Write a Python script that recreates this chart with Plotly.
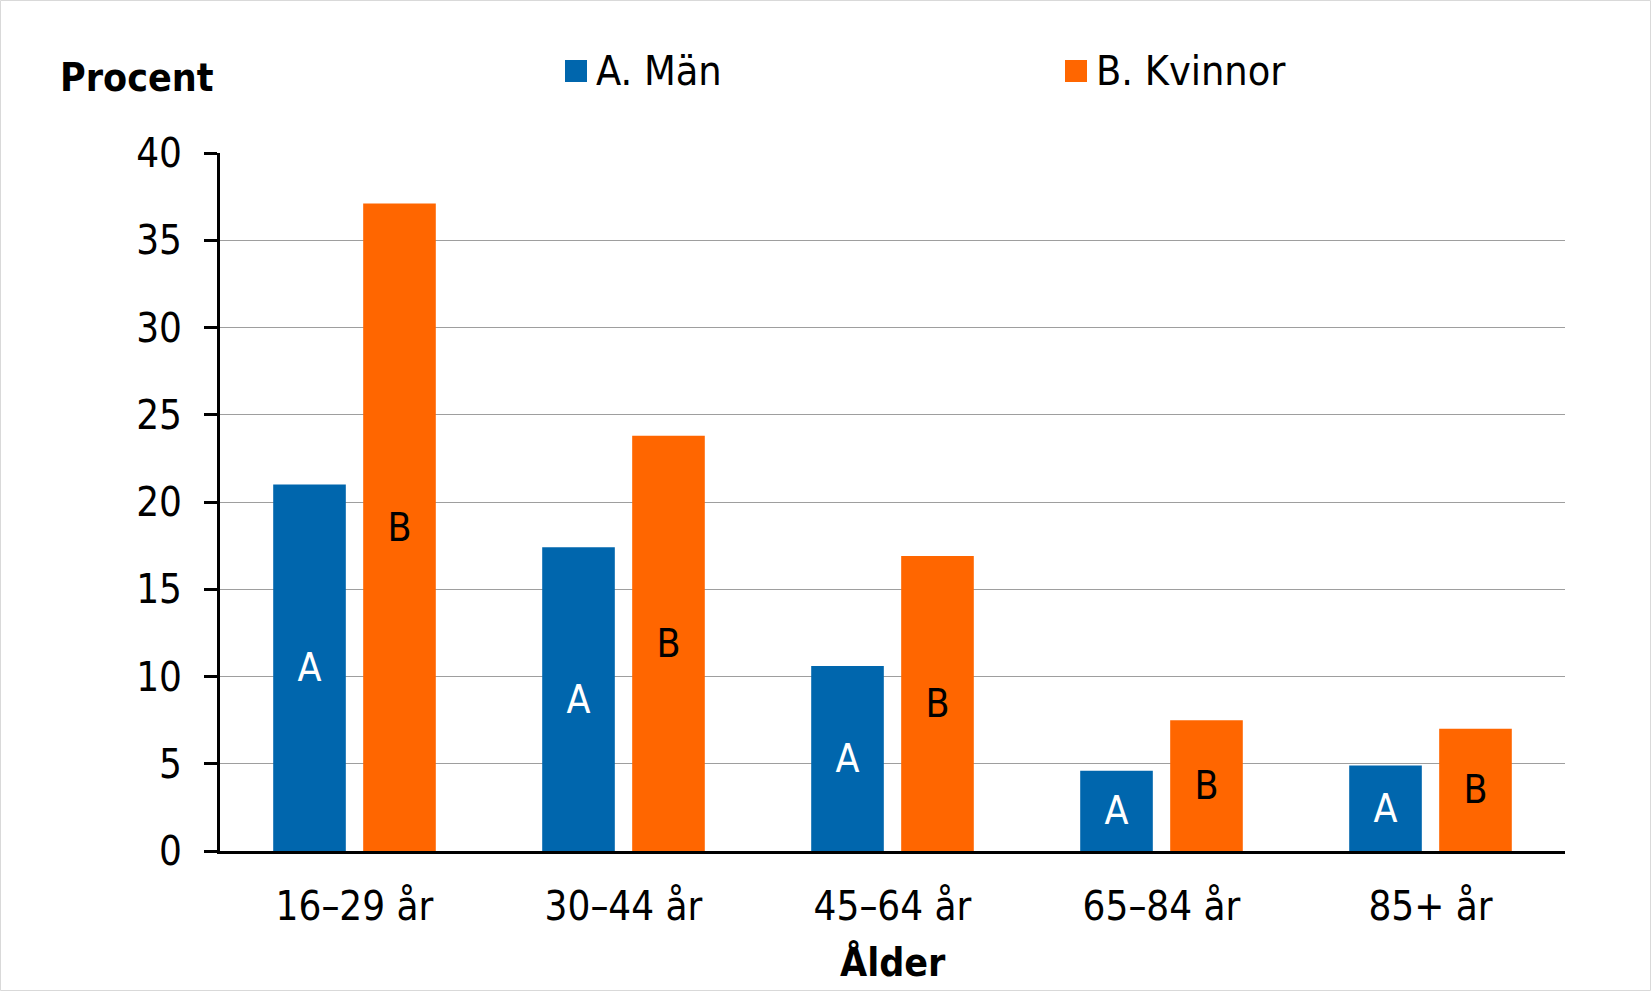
import plotly.graph_objects as go

categories = ["16–29 år", "30–44 år", "45–64 år", "65–84 år", "85+ år"]
men = [21.0, 17.4, 10.6, 4.6, 4.9]
women = [37.1, 23.8, 16.9, 7.5, 7.0]
series_names = ["A. Män", "B. Kvinnor"]
bar_labels = ["A", "B"]
y_ticks = [0, 5, 10, 15, 20, 25, 30, 35, 40]

FONT = "DejaVu Sans Condensed, Tahoma, DejaVu Sans, sans-serif"
BLUE = "#0066AD"
ORANGE = "#FF6600"

W, H = 1651, 991
L, R, T, B = 220, 86, 153, 140
PW, PH = W - L - R, H - T - B


def px_x(p):
    return (p - L) / PW


def px_y(p):
    return (H - B - p) / PH


fig = go.Figure()
fig.add_trace(go.Bar(
    x=categories, y=men, name=series_names[0], marker=dict(color=BLUE, line=dict(width=0)),
    text=[bar_labels[0]] * len(men), textposition="inside", insidetextanchor="middle",
    textfont=dict(color="white", size=39, family=FONT), showlegend=False,
))
fig.add_trace(go.Bar(
    x=categories, y=women, name=series_names[1], marker=dict(color=ORANGE, line=dict(width=0)),
    text=[bar_labels[1]] * len(women), textposition="inside", insidetextanchor="middle",
    textfont=dict(color="black", size=39, family=FONT), showlegend=False,
))

shapes = []
annotations = []
# manual legend
for i, (name, col) in enumerate(zip(series_names, [BLUE, ORANGE])):
    x0 = 565 + i * 500
    shapes.append(dict(type="rect", xref="paper", yref="paper",
                       x0=px_x(x0), x1=px_x(x0 + 22), y0=px_y(82), y1=px_y(60),
                       fillcolor=col, line=dict(width=0)))
    annotations.append(dict(text=name, xref="paper", yref="paper",
                            x=px_x(x0 + 29), y=px_y(71), xanchor="left", yanchor="middle",
                            showarrow=False, font=dict(size=41, family=FONT, color="black")))

annotations.append(dict(text="<b>Procent</b>", xref="paper", yref="paper",
                        x=px_x(58), y=px_y(77), xanchor="left", yanchor="middle",
                        showarrow=False, font=dict(size=39, family=FONT, color="black")))
annotations.append(dict(text="<b>Ålder</b>", xref="paper", yref="paper",
                        x=0.5, y=px_y(962), xanchor="center", yanchor="middle",
                        showarrow=False, font=dict(size=39, family=FONT, color="black")))

# outer border
shapes.append(dict(type="rect", xref="paper", yref="paper",
                   x0=px_x(0.5), x1=px_x(W - 0.5), y0=px_y(H - 0.5), y1=px_y(0.5),
                   line=dict(color="#D9D9D9", width=1), fillcolor="rgba(0,0,0,0)", layer="below"))

fig.update_layout(
    width=W, height=H,
    margin=dict(l=L, r=R, t=T, b=B),
    paper_bgcolor="white", plot_bgcolor="white",
    barmode="group", bargap=0.331, bargroupgap=0.193,
    font=dict(family=FONT, size=40, color="black"),
    uniformtext=dict(minsize=30, mode="show"),
    shapes=shapes, annotations=annotations,
    showlegend=False,
)
fig.update_xaxes(
    showline=True, linecolor="black", linewidth=3, ticks="", showgrid=False,
    tickfont=dict(size=40, family=FONT, color="black"), ticklabelstandoff=18,
)
fig.update_yaxes(
    range=[0, 40], tickvals=y_ticks, showline=True, linecolor="black", linewidth=3,
    ticks="outside", ticklen=13, tickwidth=3, tickcolor="black",
    showgrid=True, gridcolor="#9E9E9E", gridwidth=1, zeroline=False,
    tickfont=dict(size=40, family=FONT, color="black"), ticklabelstandoff=14,
)

fig.write_html("out.html", config={"displayModeBar": False},
               post_script="document.body.style.margin='0';")
